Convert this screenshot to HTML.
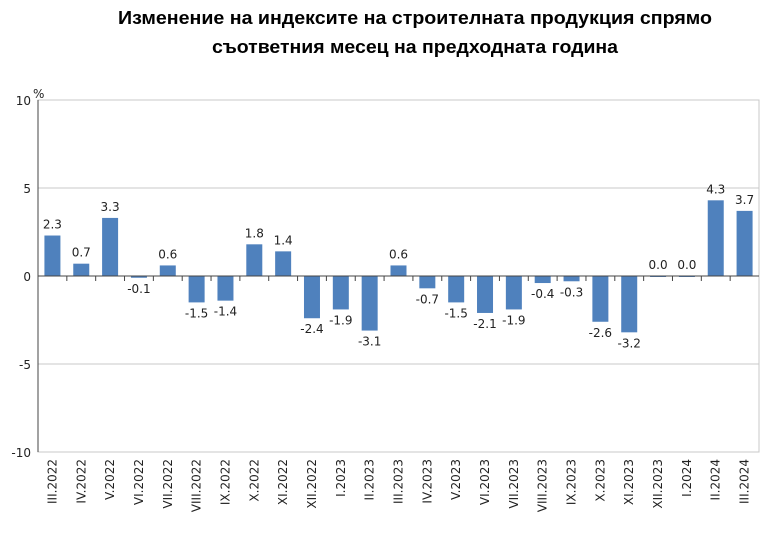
<!DOCTYPE html>
<html><head><meta charset="utf-8"><style>
html,body{margin:0;padding:0;background:#fff;width:768px;height:544px;overflow:hidden}
</style></head><body>
<svg id="c" width="768" height="544" xmlns="http://www.w3.org/2000/svg" font-family="'DejaVu Sans','Liberation Sans',sans-serif">
<text x="415" y="24" text-anchor="middle" font-family="'Liberation Sans',sans-serif" font-weight="bold" font-size="18" textLength="594" lengthAdjust="spacingAndGlyphs" fill="#000">Изменение на индексите на строителната продукция спрямо</text>
<text x="415" y="53" text-anchor="middle" font-family="'Liberation Sans',sans-serif" font-weight="bold" font-size="18" textLength="406" lengthAdjust="spacingAndGlyphs" fill="#000">съответния месец на предходната година</text>
<rect x="38" y="100" width="721" height="352" fill="#fff" stroke="#c8c8c8" stroke-width="1"/>
<line x1="38" y1="188" x2="759" y2="188" stroke="#c8c8c8"/>
<line x1="38" y1="364" x2="759" y2="364" stroke="#c8c8c8"/>
<g id="bars"></g>
<line x1="38" y1="100" x2="38" y2="452" stroke="#444"/>
<line x1="38" y1="276" x2="759" y2="276" stroke="#444"/>
<g font-size="12" fill="#222" text-anchor="end">
<text x="31" y="105">10</text><text x="31" y="193">5</text><text x="31" y="281">0</text><text x="31" y="369">-5</text><text x="31" y="457">-10</text>
</g>
<text x="33" y="98" font-size="12" fill="#222">%</text>
</svg>
<script>
var v=[2.3,0.7,3.3,-0.1,0.6,-1.5,-1.4,1.8,1.4,-2.4,-1.9,-3.1,0.6,-0.7,-1.5,-2.1,-1.9,-0.4,-0.3,-2.6,-3.2,0.0,0.0,4.3,3.7];
var m=["III.2022","IV.2022","V.2022","VI.2022","VII.2022","VIII.2022","IX.2022","X.2022","XI.2022","XII.2022","I.2023","II.2023","III.2023","IV.2023","V.2023","VI.2023","VII.2023","VIII.2023","IX.2023","X.2023","XI.2023","XII.2023","I.2024","II.2024","III.2024"];
var s="",w=721/25,k=17.6;
for(var i=0;i<25;i++){
 var cx=38+w*(i+0.5),y=v[i]>=0?276-v[i]*k:276,h=Math.max(Math.abs(v[i])*k,1);
 s+='<rect x="'+(cx-8)+'" y="'+y+'" width="16" height="'+h+'" fill="#4f81bd"/>';
 var ly=v[i]>=0?y-7:276+h+15;
 s+='<text x="'+cx+'" y="'+ly+'" font-size="12" fill="#222" text-anchor="middle">'+v[i].toFixed(1)+'</text>';
 if(i>0) s+='<line x1="'+(38+w*i)+'" y1="276" x2="'+(38+w*i)+'" y2="281" stroke="#444"/>';
 s+='<text transform="translate('+(cx+4)+',459) rotate(-90)" font-size="12" fill="#222" text-anchor="end">'+m[i]+'</text>';
}
document.getElementById("bars").innerHTML=s;
</script>
</body></html>
